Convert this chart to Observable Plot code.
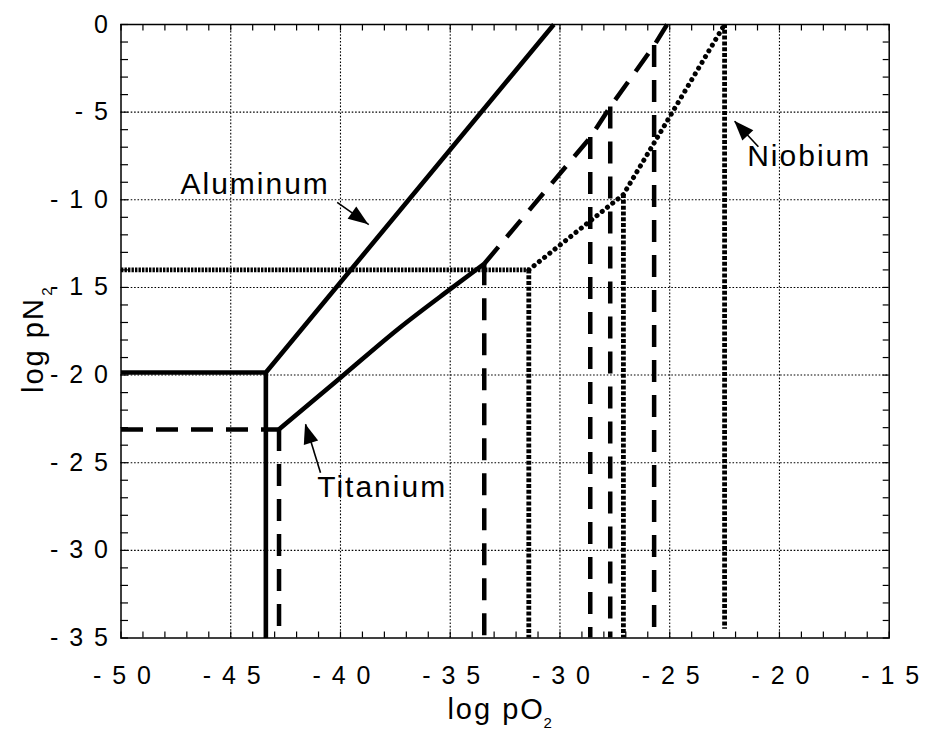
<!DOCTYPE html>
<html>
<head>
<meta charset="utf-8">
<script src="https://cdn.jsdelivr.net/npm/d3@7"></script>
<script src="https://cdn.jsdelivr.net/npm/@observablehq/plot@0.6"></script>
<style>
  html, body { margin: 0; padding: 0; background: #fff; }
  #chart svg text { letter-spacing: 2px; }
</style>
</head>
<body>
<div id="chart"></div>
<script>
// Axis ticks (log pO2 on x, log pN2 on y)
const xMajorTicks = [-50, -45, -40, -35, -30, -25, -20, -15];
const yMajorTicks = [0, -5, -10, -15, -20, -25, -30, -35];
const xMinorTicks = d3.range(-50, -14, 1);
const yMinorTicks = d3.range(-35, 1, 1);

// Aluminum stability boundaries (solid)
const aluminumUpper = [[-50, -19.85], [-43.4, -19.85], [-30.28, 0]];
const aluminumVertical = [[-43.4, -19.85], [-43.4, -35]];

// Titanium boundaries: solid nitride/oxide line, dashed remainder
const titaniumSolid = [[-42.8, -23.1], [-40.0, -20.15], [-37.3, -17.3], [-35.0, -15.1], [-33.45, -13.65]];
const titaniumHorizontal = [[-50, -23.1], [-42.8, -23.1]];
const titaniumUpper = [[-33.45, -13.65], [-28.62, -6.45], [-27.71, -4.7], [-25.71, -1.2], [-25.12, 0]];
const titaniumVerticalX = [-42.8, -33.45, -28.62, -27.71, -25.71];
const titaniumVerticalTop = [-23.1, -13.65, -6.45, -4.7, -1.2];

// Niobium boundaries (dotted)
const niobiumHorizontal = [[-50, -14.0], [-31.42, -14.0]];
const niobiumUpper = [[-31.42, -14.0], [-27.11, -9.7], [-22.5, 0]];
const niobiumVerticalX = [-31.42, -27.11, -22.5];
const niobiumVerticalTop = [-14.0, -9.7, 0];
const niobiumVerticalBottom = [-35, -35, -34.5];

// Curve labels and their pointer arrows
const labelNames = ["Aluminum", "Titanium", "Niobium"];
const labelX = [-47.29, -41.06, -21.47];
const labelY = [-9.65, -26.93, -8.09];
const arrowFromX = [-40.15, -40.91, -20.96];
const arrowFromY = [-10.15, -25.57, -6.97];
const arrowToX = [-38.71, -41.59, -22.04];
const arrowToY = [-11.42, -22.80, -5.52];

const width = 926, height = 733;
const marginLeft = 120.5, marginRight = 37.3, marginTop = 24, marginBottom = 95.5;
const frameW = width - marginLeft - marginRight;
const frameH = height - marginTop - marginBottom;

const fmt = v => v === 0 ? "0" : "- " + String(Math.abs(v)).split("").join(" ");
const pts = arr => arr.map(([x, y]) => ({x, y}));

const labels = labelNames.map((name, i) => ({name, x: labelX[i], y: labelY[i]}));
const arrows = labelNames.map((name, i) => ({
  x1: arrowFromX[i], y1: arrowFromY[i], x2: arrowToX[i], y2: arrowToY[i]
}));
const tiVerticals = titaniumVerticalX.map((x, i) => ({x, y1: titaniumVerticalTop[i], y2: -35}));
const nbVerticals = niobiumVerticalX.map((x, i) => ({x, y1: niobiumVerticalTop[i], y2: niobiumVerticalBottom[i]}));

// Filled triangular arrow heads, placed through the plot's scales
function arrowHeads(data, len, half) {
  return (index, scales) => {
    const g = d3.create("svg:g").attr("aria-label", "arrow heads");
    for (const d of data) {
      const ax = scales.x(d.x1), ay = scales.y(d.y1);
      const bx = scales.x(d.x2), by = scales.y(d.y2);
      const a = Math.atan2(by - ay, bx - ax);
      const cx = bx - len * Math.cos(a), cy = by - len * Math.sin(a);
      const px = -Math.sin(a) * half, py = Math.cos(a) * half;
      g.append("path")
        .attr("d", `M${bx},${by}L${cx + px},${cy + py}L${cx - px},${cy - py}Z`)
        .attr("fill", "#000");
    }
    return g.node();
  };
}

const black = "#000";
const solid = {x: "x", y: "y", stroke: black, strokeWidth: 4.6, strokeLinejoin: "miter", strokeLinecap: "butt"};
const dashed = {x: "x", y: "y", stroke: black, strokeWidth: 4.5, strokeDasharray: "22,13", strokeLinecap: "butt"};

const chart = Plot.plot({
  width, height, marginLeft, marginRight, marginTop, marginBottom,
  style: {fontFamily: "'Liberation Sans', Arial, Helvetica, sans-serif", color: black, background: "#fff"},
  x: {domain: [-50, -15], label: null},
  y: {domain: [-35, 0], label: null},
  marks: [
    // dotted grid
    Plot.ruleX(xMajorTicks.slice(1, -1), {stroke: black, strokeWidth: 1.1, strokeDasharray: "1.6,1.8"}),
    Plot.ruleY(yMajorTicks.slice(1, -1), {stroke: black, strokeWidth: 1.1, strokeDasharray: "1.6,1.8"}),

    // Niobium
    Plot.line(pts(niobiumHorizontal), {x: "x", y: "y", stroke: black, strokeWidth: 4.6, strokeDasharray: "2.4,1.1", strokeLinecap: "butt"}),
    Plot.line(pts(niobiumUpper), {x: "x", y: "y", stroke: black, strokeWidth: 5, strokeDasharray: "0.1,6.6", strokeLinecap: "round"}),
    Plot.ruleX(nbVerticals, {x: "x", y1: "y1", y2: "y2", stroke: black, strokeWidth: 4.8, strokeDasharray: "4,1.8"}),

    // Titanium
    Plot.line(pts(titaniumHorizontal), dashed),
    Plot.line(pts(titaniumUpper), dashed),
    Plot.ruleX(tiVerticals, {x: "x", y1: "y1", y2: "y2", stroke: black, strokeWidth: 4.5, strokeDasharray: "22,13"}),
    Plot.line(pts(titaniumSolid), {...solid, curve: "monotone-x"}),

    // Aluminum
    Plot.line(pts(aluminumUpper), solid),
    Plot.line(pts(aluminumVertical), solid),

    // frame and inward ticks on all four sides
    Plot.frame({stroke: black, strokeWidth: 1.5}),
    Plot.ruleX(xMinorTicks, {stroke: black, strokeWidth: 1.2, insetTop: frameH - 6}),
    Plot.ruleX(xMinorTicks, {stroke: black, strokeWidth: 1.2, insetBottom: frameH - 6.5}),
    Plot.ruleY(yMinorTicks, {stroke: black, strokeWidth: 1.2, insetRight: frameW - 7.5}),
    Plot.ruleY(yMinorTicks, {stroke: black, strokeWidth: 1.2, insetLeft: frameW - 6}),

    // tick labels
    Plot.axisX({ticks: xMajorTicks, tickFormat: fmt, tickSize: 0, tickPadding: 28, fontSize: 25, label: null, dx: 2}),
    Plot.axisY({ticks: yMajorTicks, tickFormat: fmt, tickSize: 0, tickPadding: 11, fontSize: 25, label: null}),

    // axis titles with subscripts
    Plot.text(["log pO"], {x: -35.13, frameAnchor: "bottom", dy: 80.5, textAnchor: "start", lineAnchor: "bottom", fontSize: 29}),
    Plot.text(["2"], {x: -30.75, frameAnchor: "bottom", dy: 90, textAnchor: "start", lineAnchor: "bottom", fontSize: 15}),
    Plot.text(["log pN"], {y: -21.02, frameAnchor: "left", dx: -78.5, rotate: -90, textAnchor: "start", lineAnchor: "bottom", fontSize: 29}),
    Plot.text(["2"], {y: -15.48, frameAnchor: "left", dx: -69.5, rotate: -90, textAnchor: "start", lineAnchor: "bottom", fontSize: 15}),

    // curve labels and pointers
    Plot.text(labels, {x: "x", y: "y", text: "name", textAnchor: "start", lineAnchor: "bottom", fontSize: 30, fill: black}),
    Plot.link(arrows, {x1: "x1", y1: "y1", x2: "x2", y2: "y2", stroke: black, strokeWidth: 1.6}),
    arrowHeads(arrows, 20, 7.5)
  ]
});

document.getElementById("chart").append(chart);
</script>
</body>
</html>
